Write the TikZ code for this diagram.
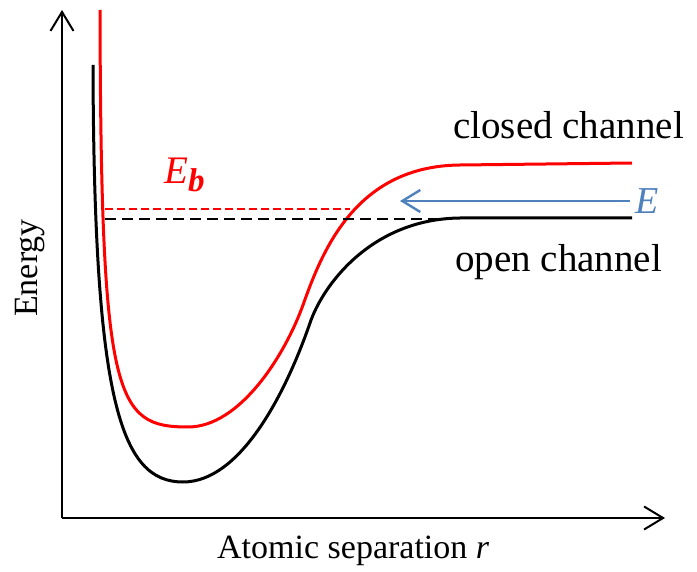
\documentclass[tikz,border=0pt]{standalone}
\usepackage{fontspec}
\setmainfont{Liberation Serif}
\usepackage{xcolor}
\usetikzlibrary{
    arrows.meta,
    positioning
}
\definecolor{eblue}{HTML}{4F81BD}
\tikzset{
    axis/.style={
        line width=2pt,
        -{Straight Barb[length=19pt,width=23pt,line width=2pt]}
    },
    curve/.style={
        line width=3pt,
        line join=round
    },
    dashline/.style={
        line width=2pt,
        dash pattern=on 11pt off 6pt
    },
    arrow/.style={
        line width=2.4pt,
        eblue,
        -{Straight Barb[length=18pt,width=22pt,line width=2.4pt]}
    },
    label/.style={
        font=\fontsize{34}{38}\selectfont,
        inner sep=0pt
    },
    chlabel/.style={
        label,
        font=\fontsize{39}{42}\selectfont
    }
}

\begin{document}
\begin{tikzpicture}[x=1pt, y=-1pt]
\useasboundingbox (0,0) rectangle (697,572);

% axes
\coordinate (origin) at (62,518);
\coordinate (ytip) at (62,10);
\coordinate (xtip) at (665,518);
\draw[axis] (origin) -- (ytip);
\draw[axis] (origin) -- (xtip);

% potential curves
\draw[curve, black] (93,65)
    .. controls (94,400) and (120,482) .. (183,482)
    .. controls (240,482) and (285,395) .. (310,323)
    .. controls (322,287) and (370,219) .. (460,218)
    -- (632,218);
\draw[curve, red] (100,10)
    .. controls (101,400) and (115,427) .. (188,427)
    .. controls (240,427) and (285,355) .. (303,305)
    .. controls (322,252) and (355,166) .. (460,165)
    -- (632,163);

% energy levels
\coordinate (boundL) at (105,209);
\coordinate (boundR) at (350,209);
\coordinate (openL) at (105,219);
\coordinate (openR) at (442,219);
\draw[dashline, red, dash pattern=on 8pt off 4pt] (boundL) -- (boundR);
\draw[dashline, black] (openL) -- (openR);

% incoming energy
\coordinate (Estart) at (630,201);
\coordinate (Eend) at (400,201);
\draw[arrow] (Estart) -- (Eend);
\node[label, eblue, right=5pt of Estart, font=\fontsize{38}{40}\selectfont] (Elabel) {\textit{E}};

% labels
\node[label, red, anchor=base west, font=\fontsize{39}{42}\selectfont] (Eb) at (164,184)
    {\textit{E}\raisebox{-8pt}{\fontsize{33}{35}\selectfont\textbf{\textit{b}}}};
\node[chlabel, anchor=base west] (closed) at (453,139) {closed channel};
\node[chlabel, anchor=base west] (open) at (455,272) {open channel};
\node[label, anchor=base west] (xlabel) at (217,558) {Atomic separation \textit{r}};
\node[label, anchor=base, rotate=90] (ylabel) at (37,268) {Energy};
\end{tikzpicture}
\end{document}
